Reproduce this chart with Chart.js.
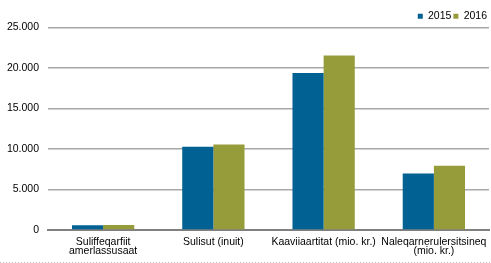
<!DOCTYPE html>
<html>
<head>
<meta charset="utf-8">
<script src="https://cdn.jsdelivr.net/npm/chart.js@4"></script>
<style>
  html,body{margin:0;padding:0;background:#fff;}
  #wrap{width:491px;height:263px;position:relative;}
</style>
</head>
<body>
<div id="wrap"><canvas id="c" width="491" height="263"></canvas></div>
<script>
const categories = [["Suliffeqarfiit","amerlassusaat"], "Sulisut (inuit)", "Kaaviiaartitat (mio. kr.)", ["Naleqarnerulersitsineq","(mio. kr.)"]];
const seriesNames = ["2015", "2016"];
const values2015 = [600, 10300, 19400, 6980];
const values2016 = [620, 10550, 21550, 7930];
const yTicks = [0, 5000, 10000, 15000, 20000, 25000];

const fmt = v => String(v).replace(/\B(?=(\d{3})+(?!\d))/g, '.');

const bottomDots = {
  id: 'bottomDots',
  beforeLayout(chart) {
    const lg = chart.legend;
    if (lg && !lg._trimmed) {
      const f = lg.fit.bind(lg);
      lg.fit = function () { f(); this.height = Math.max(0, this.height - 4); };
      lg._trimmed = true;
    }
  },
  afterDraw(chart) {
    const ctx = chart.ctx;
    ctx.save();
    ctx.strokeStyle = '#b8b8b8';
    ctx.lineWidth = 1;
    ctx.setLineDash([1, 2]);
    ctx.beginPath();
    ctx.moveTo(0, chart.height - 0.5);
    ctx.lineTo(chart.width, chart.height - 0.5);
    ctx.stroke();
    ctx.restore();
  }
};

Chart.defaults.font.family = '"Liberation Sans", Arial, sans-serif';
Chart.defaults.font.size = 10.5;
Chart.defaults.color = '#000';

new Chart(document.getElementById('c'), {
  type: 'bar',
  data: {
    labels: categories,
    datasets: [
      { label: seriesNames[0], data: values2015, backgroundColor: '#006192', borderWidth: 0 },
      { label: seriesNames[1], data: values2016, backgroundColor: '#979c3a', borderWidth: 0 }
    ]
  },
  options: {
    responsive: false,
    animation: false,
    devicePixelRatio: 1,
    layout: { padding: { left: 7, right: 2, top: 9, bottom: 0 } },
    datasets: { bar: { categoryPercentage: 0.565, barPercentage: 1 } },
    plugins: {
      legend: {
        position: 'top',
        align: 'end',
        labels: { boxWidth: 5, boxHeight: 5, padding: 2, font: { size: 10.5 }, color: '#000' }
      },
      tooltip: { enabled: false }
    },
    scales: {
      x: {
        grid: { display: false, drawTicks: false },
        border: { display: true, color: '#808080', width: 2 },
        ticks: { padding: 7, maxRotation: 0, autoSkip: false, color: '#000', font: { size: 10.5, lineHeight: 0.9 } },
        afterFit: (scale) => { scale.paddingLeft = 0; scale.paddingRight = 0; }
      },
      y: {
        min: 0, max: 25000,
        afterBuildTicks: (axis) => { axis.ticks = yTicks.map(v => ({ value: v })); },
        afterFit: (scale) => { scale.width = 41; },
        grid: {
          drawTicks: false,
          color: '#a8a8a8',
          lineWidth: 1.5
        },
        border: { display: false },
        ticks: { padding: 9, callback: v => fmt(v), color: '#000' }
      }
    }
  },
  plugins: [bottomDots]
});
</script>
</body>
</html>
